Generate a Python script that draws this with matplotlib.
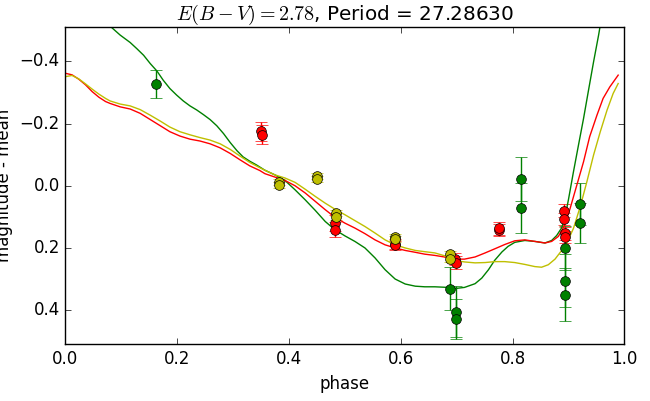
import numpy as np
import matplotlib
matplotlib.use("Agg")
import matplotlib.pyplot as plt

plt.style.use("classic")

# ── observed points (phase, magnitude - mean, error) ─────────────────────
g_phase = [0.163, 0.689, 0.698, 0.698, 0.816, 0.816, 0.894, 0.894, 0.894, 0.920, 0.920]
g_mag = [-0.327, 0.331, 0.405, 0.428, -0.022, 0.072, 0.200, 0.306, 0.351, 0.058, 0.120]
g_err = [0.045, 0.070, 0.083, 0.065, 0.070, 0.080, 0.070, 0.085, 0.085, 0.067, 0.063]

r_phase = [0.350, 0.351, 0.483, 0.483, 0.589, 0.590, 0.697, 0.698, 0.775, 0.776,
           0.892, 0.892, 0.893, 0.893]
r_mag = [-0.175, -0.164, 0.120, 0.141, 0.187, 0.192, 0.236, 0.247, 0.142, 0.137,
         0.080, 0.106, 0.153, 0.164]
r_err = [0.030, 0.030, 0.025, 0.025, 0.015, 0.015, 0.020, 0.020, 0.020, 0.020,
         0.020, 0.020, 0.020, 0.020]

y_phase = [0.382, 0.382, 0.450, 0.450, 0.484, 0.484, 0.589, 0.589, 0.688, 0.688]
y_mag = [-0.011, -0.003, -0.031, -0.023, 0.088, 0.099, 0.165, 0.171, 0.219, 0.234]
y_err = [0.010] * 10

# ── fitted template curves ───────────────────────────────────────────────
rc_phase = [0.000, 0.012, 0.024, 0.036, 0.048, 0.060, 0.072, 0.080, 0.098, 0.116,
            0.134, 0.152, 0.170, 0.187, 0.205, 0.223, 0.241, 0.259, 0.277, 0.295,
            0.313, 0.330, 0.348, 0.357, 0.375, 0.393, 0.411, 0.429, 0.447, 0.465,
            0.482, 0.500, 0.518, 0.536, 0.554, 0.572, 0.590, 0.608, 0.626, 0.643,
            0.661, 0.678, 0.696, 0.714, 0.733, 0.751, 0.768, 0.786, 0.804, 0.822,
            0.840, 0.858, 0.870, 0.882, 0.893, 0.903, 0.915, 0.927, 0.938, 0.951,
            0.962, 0.974, 0.989]
rc_mag = [-0.362, -0.357, -0.343, -0.325, -0.303, -0.285, -0.271, -0.265, -0.254, -0.247,
          -0.233, -0.213, -0.193, -0.174, -0.160, -0.150, -0.144, -0.135, -0.122, -0.104,
          -0.083, -0.064, -0.049, -0.039, -0.028, -0.017, 0.000, 0.023, 0.050, 0.077,
          0.101, 0.120, 0.136, 0.154, 0.174, 0.190, 0.200, 0.208, 0.214, 0.220,
          0.224, 0.229, 0.236, 0.236, 0.229, 0.216, 0.203, 0.189, 0.177, 0.174,
          0.179, 0.184, 0.179, 0.163, 0.128, 0.073, -0.002, -0.077, -0.158, -0.227,
          -0.281, -0.318, -0.356]

yc_phase = [0.000, 0.012, 0.024, 0.036, 0.048, 0.060, 0.072, 0.080, 0.098, 0.116,
            0.134, 0.152, 0.170, 0.187, 0.205, 0.223, 0.241, 0.259, 0.277, 0.295,
            0.313, 0.330, 0.348, 0.357, 0.375, 0.393, 0.411, 0.429, 0.447, 0.465,
            0.482, 0.500, 0.518, 0.536, 0.554, 0.572, 0.590, 0.608, 0.626, 0.643,
            0.661, 0.680, 0.696, 0.714, 0.733, 0.751, 0.768, 0.786, 0.804, 0.822,
            0.840, 0.852, 0.864, 0.876, 0.888, 0.897, 0.909, 0.921, 0.933, 0.945,
            0.957, 0.969, 0.980, 0.989]
yc_mag = [-0.351, -0.355, -0.344, -0.328, -0.311, -0.295, -0.281, -0.273, -0.263, -0.257,
          -0.245, -0.227, -0.208, -0.189, -0.174, -0.164, -0.155, -0.147, -0.135, -0.117,
          -0.095, -0.075, -0.058, -0.050, -0.035, -0.025, -0.011, 0.011, 0.034, 0.056,
          0.075, 0.093, 0.112, 0.131, 0.152, 0.174, 0.190, 0.200, 0.208, 0.212,
          0.216, 0.226, 0.240, 0.245, 0.248, 0.247, 0.244, 0.244, 0.247, 0.253,
          0.260, 0.262, 0.254, 0.236, 0.208, 0.185, 0.137, 0.068, -0.013, -0.099,
          -0.174, -0.243, -0.297, -0.329]

gc_phase = [0.060, 0.083, 0.098, 0.116, 0.128, 0.140, 0.152, 0.164, 0.175, 0.187,
            0.199, 0.211, 0.223, 0.235, 0.247, 0.259, 0.271, 0.283, 0.295, 0.307,
            0.318, 0.330, 0.342, 0.357, 0.375, 0.393, 0.411, 0.429, 0.447, 0.465,
            0.482, 0.500, 0.518, 0.536, 0.554, 0.572, 0.590, 0.608, 0.626, 0.643,
            0.661, 0.685, 0.700, 0.714, 0.733, 0.745, 0.757, 0.768, 0.781, 0.792,
            0.804, 0.822, 0.840, 0.858, 0.870, 0.879, 0.888, 0.894, 0.900, 0.909,
            0.918, 0.927, 0.936, 0.945, 0.954, 0.962]
gc_mag = [-0.560, -0.509, -0.485, -0.461, -0.441, -0.420, -0.393, -0.369, -0.340, -0.313,
          -0.292, -0.273, -0.257, -0.244, -0.229, -0.213, -0.193, -0.168, -0.139, -0.113,
          -0.093, -0.079, -0.067, -0.050, -0.035, -0.017, 0.013, 0.045, 0.079, 0.115,
          0.141, 0.161, 0.179, 0.200, 0.232, 0.270, 0.300, 0.316, 0.323, 0.325,
          0.325, 0.327, 0.330, 0.327, 0.315, 0.297, 0.270, 0.240, 0.213, 0.195,
          0.182, 0.176, 0.179, 0.184, 0.176, 0.160, 0.135, 0.100, 0.045, -0.045,
          -0.131, -0.216, -0.308, -0.399, -0.485, -0.570]

fig = plt.figure(figsize=(6.5, 4.01), dpi=100)
ax = fig.add_axes([0.1005, 0.1414, 0.86, 0.7906])

for ph, mg, er, col in [(g_phase, g_mag, g_err, "g"),
                        (r_phase, r_mag, r_err, "r"),
                        (y_phase, y_mag, y_err, "y")]:
    ax.errorbar(ph, mg, yerr=er, fmt="o", color=col, ecolor=col,
                mec="k", ms=7, capsize=4, elinewidth=1)

ax.plot(gc_phase, gc_mag, color="g", lw=1)
ax.plot(rc_phase, rc_mag, color="r", lw=1)
ax.plot(yc_phase, yc_mag, color="y", lw=1)

ax.set_xlim(0, 1)
ax.set_ylim(0.51, -0.51)
ax.set_xlabel("phase")
ax.set_ylabel("magnitude - mean")
ax.set_title(r"$E(B-V) = 2.78$, Period = 27.28630")

fig.savefig("out.png", dpi=100)
